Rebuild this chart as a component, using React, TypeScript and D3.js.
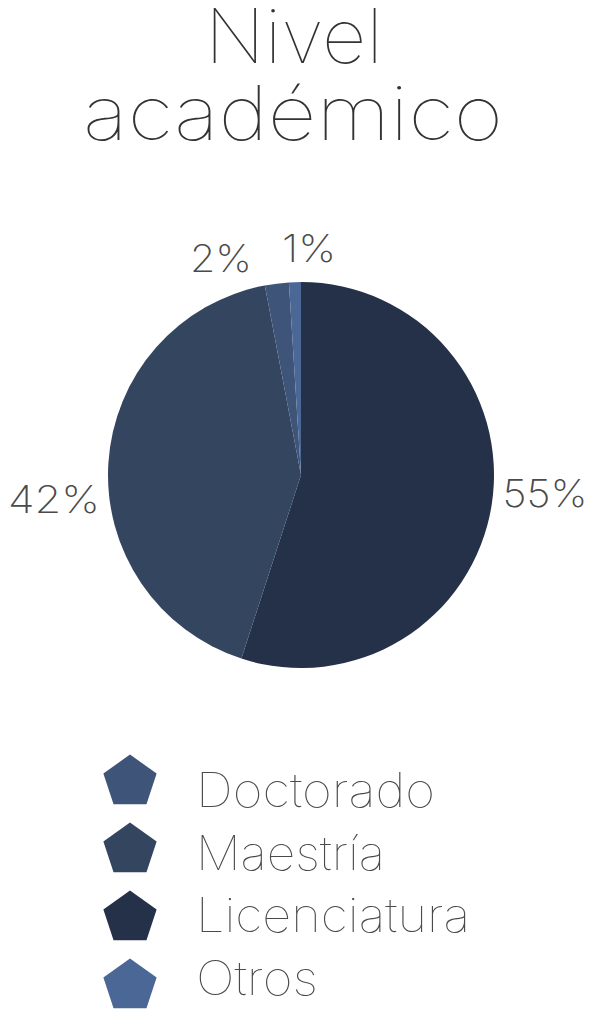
import { arc, pie, PieArcDatum } from "d3";

// Data
const categories = ["Licenciatura", "Maestría", "Doctorado", "Otros"];
const values = [55, 42, 2, 1];
const legendOrder = ["Doctorado", "Maestría", "Licenciatura", "Otros"];
const colors = ["#253149", "#34455f", "#3f5479", "#4b6796"];

type Slice = { name: string; value: number; color: string };

const slices: Slice[] = categories.map((name, i) => ({
  name,
  value: values[i],
  color: colors[i],
}));

const width = 597;
const height = 1024;
const cx = 301;
const cy = 475;
const radius = 193;
const labelRadius = 238;
// label nudges (px) and widths so the tiny slices don't collide
const labelNudge: Record<string, [number, number]> = {
  Licenciatura: [9, -19],
  Maestría: [-9, 39],
  Doctorado: [-50, 19],
  Otros: [15, 11],
};
const labelWidth: Record<string, number> = {
  Licenciatura: 85,
  Maestría: 92,
  Doctorado: 62,
  Otros: 54,
};
const legendWidth: Record<string, number> = {
  Doctorado: 239,
  Maestría: 189,
  Licenciatura: 274,
  Otros: 122,
};

const font = "Inter, 'Noto Sans', sans-serif";
const textColor = "#4a4a4a";
const weight = 100;

const pieLayout = pie<Slice>()
  .value((d) => d.value)
  .sort(null);
const arcGen = arc<PieArcDatum<Slice>>().innerRadius(0).outerRadius(radius);
const labelArc = arc<PieArcDatum<Slice>>()
  .innerRadius(labelRadius)
  .outerRadius(labelRadius);

// pentagon marker for the legend
const pentagon = (() => {
  const r = 28;
  const pts = Array.from({ length: 5 }, (_, i) => {
    const a = -Math.PI / 2 + (i * 2 * Math.PI) / 5;
    return [r * Math.cos(a), r * Math.sin(a) * 0.98];
  });
  return "M" + pts.map((p) => p.join(",")).join("L") + "Z";
})();

export default function App() {
  const arcs = pieLayout(slices);
  return (
    <svg
      width={width}
      height={height}
      style={{ position: "absolute", left: 0, top: 0, background: "#fff" }}
    >
      {/* Title */}
      <g fill="#333" fontFamily={font} fontWeight={weight} fontSize={75} textAnchor="middle">
        <text x={294} y={63} textLength={178} lengthAdjust="spacingAndGlyphs">
          Nivel
        </text>
        <text x={293} y={140} textLength={420} lengthAdjust="spacingAndGlyphs">
          académico
        </text>
      </g>

      {/* Pie */}
      <g transform={`translate(${cx},${cy})`}>
        {arcs.map((a) => (
          <path key={a.data.name} d={arcGen(a) || undefined} fill={a.data.color} />
        ))}
      </g>
      {arcs.map((a) => {
        const [x, y] = labelArc.centroid(a);
        const [dx, dy] = labelNudge[a.data.name];
        return (
          <text
            key={a.data.name}
            x={Math.round(cx + x + dx)}
            y={Math.round(cy + y + dy + 14)}
            textAnchor="middle"
            fontFamily={font}
            fontWeight={200}
            fontSize={38}
            fill={textColor}
            textLength={labelWidth[a.data.name]}
            lengthAdjust="spacingAndGlyphs"
          >
            {a.data.value}%
          </text>
        );
      })}

      {/* Legend */}
      <g>
        {legendOrder.map((name, i) => {
          const s = slices.find((d) => d.name === name)!;
          const y = 782 + i * 68;
          return (
            <g key={name}>
              <path d={pentagon} transform={`translate(130,${y})`} fill={s.color} />
              <text
                x={196}
                y={807 + i * 62.5}
                fontFamily={font}
                fontWeight={weight}
                fontSize={47}
                fill={textColor}
                textLength={legendWidth[name]}
                lengthAdjust="spacingAndGlyphs"
              >
                {name}
              </text>
            </g>
          );
        })}
      </g>
    </svg>
  );
}
